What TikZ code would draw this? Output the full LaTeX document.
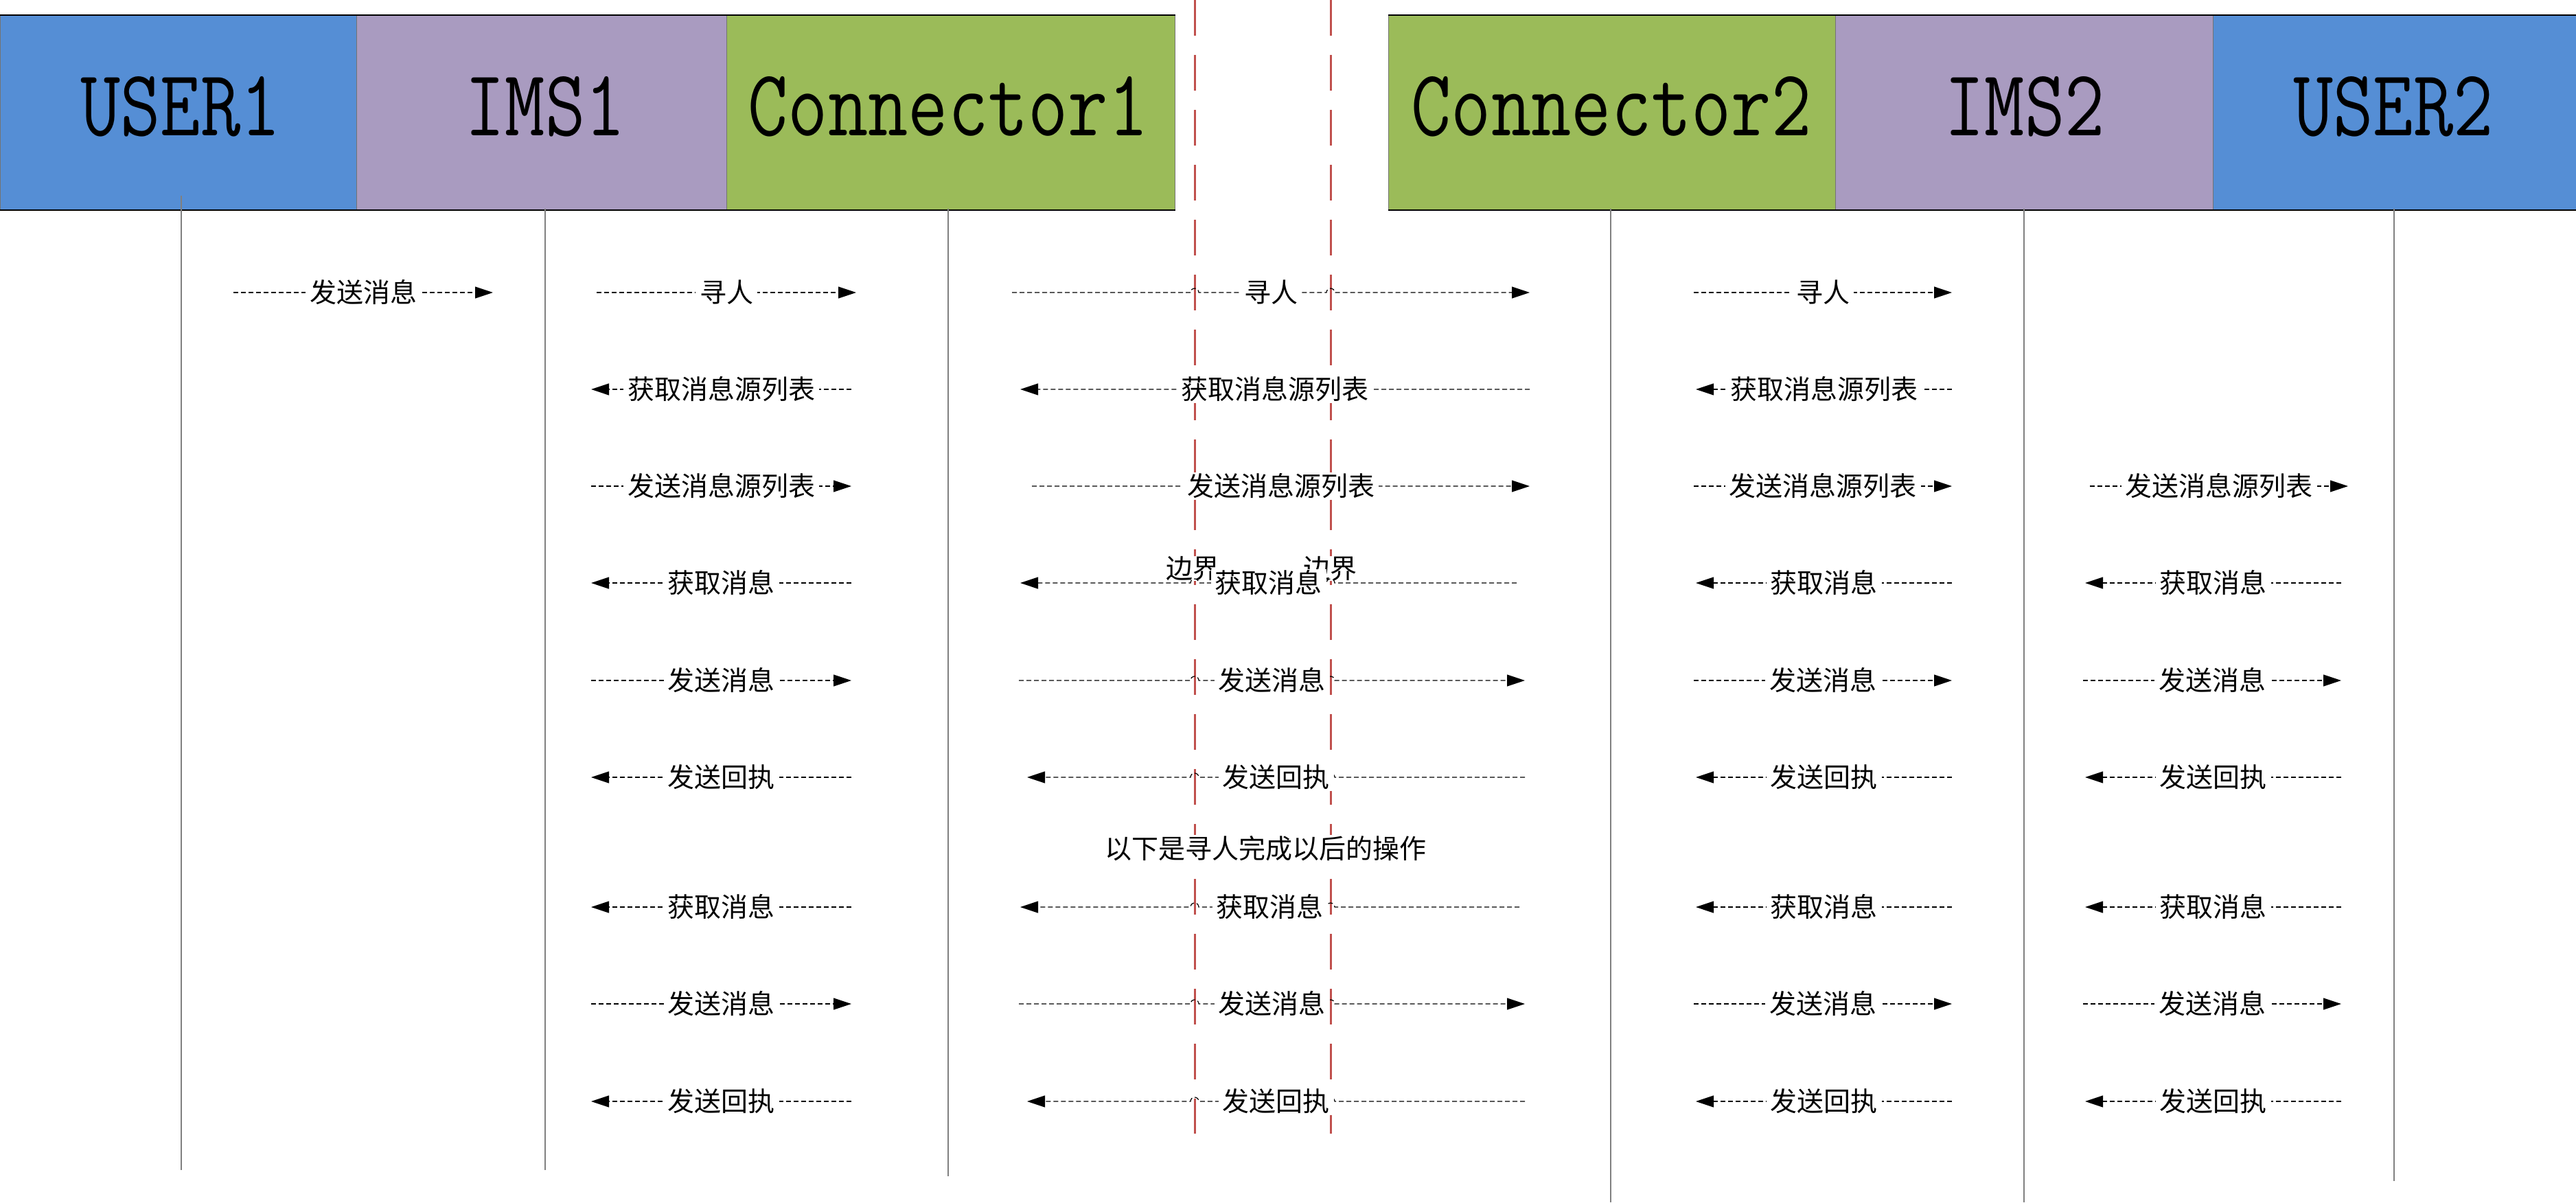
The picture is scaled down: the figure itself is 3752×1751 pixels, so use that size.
\documentclass[tikz,border=0pt]{standalone}
\usepackage{fontspec}
\newfontfamily\cjk{Noto Sans CJK SC}
\usetikzlibrary{arrows.meta,calc}
\definecolor{userblue}{HTML}{558ED5}
\definecolor{imspurple}{HTML}{A99BC0}
\definecolor{conngreen}{HTML}{9BBB59}
\definecolor{bred}{HTML}{C0504D}
\tikzset{
  hdrbox/.style={draw=black!55, line width=0.5pt, inner sep=0pt, anchor=north west, minimum height=141.5pt},
  hdrtext/.style={inner sep=0pt, font=\fontsize{69pt}{70pt}\ttfamily},
  lifeline/.style={draw=black!50, line width=0.7pt},
  boundary/.style={draw=bred, line width=1.5pt, dash pattern=on 26pt off 14pt},
  msgarrow/.style={draw=black, line width=0.6pt, dash pattern=on 3.5pt off 2pt, -{Triangle[length=13pt,width=8.5pt]}},
  msglabel/.style={fill=white, inner xsep=3pt, inner ysep=1pt, font=\cjk\fontsize{19.5pt}{20pt}\selectfont},
}
\newcommand\msgline[5]{%
  \coordinate (#1s) at (#3,#2); \coordinate (#1t) at (#4,#2);
  \draw[msgarrow] (#1s) -- (#1t);
  \node[msglabel] (#1) at ($(#1s)!0.5!(#1t)$) {#5};}
\newcommand\hopR[5]{%
  \coordinate (#1s) at (#3,#2); \coordinate (#1t) at (#4,#2);
  \draw[msgarrow] (#1s) -- (1734,#2) arc[start angle=180,end angle=0,radius=3pt] -- (1932,#2) arc[start angle=180,end angle=0,radius=3pt] -- (#1t);
  \node[msglabel] (#1) at ($(#1s)!0.5!(#1t)$) {#5};}
\newcommand\hopL[5]{%
  \coordinate (#1s) at (#3,#2); \coordinate (#1t) at (#4,#2);
  \draw[msgarrow] (#1s) -- (1944,#2) arc[start angle=0,end angle=180,radius=3pt] -- (1746,#2) arc[start angle=0,end angle=180,radius=3pt] -- (#1t);
  \node[msglabel] (#1) at ($(#1s)!0.5!(#1t)$) {#5};}
\begin{document}
\begin{tikzpicture}[x=0.5pt,y=-0.5pt]
\useasboundingbox (0,0) rectangle (3752,1751);
% header boxes
\node[hdrbox, fill=userblue,   minimum width=259.5pt] (user1box) at (0,21.5) {};
\node[hdrbox, fill=imspurple,  minimum width=269.5pt] (ims1box)  at (519,21.5) {};
\node[hdrbox, fill=conngreen,  minimum width=326.5pt] (conn1box) at (1058,21.5) {};
\node[hdrbox, fill=conngreen,  minimum width=325.5pt] (conn2box) at (2022,21.5) {};
\node[hdrbox, fill=imspurple,  minimum width=275pt]   (ims2box)  at (2673,21.5) {};
\node[hdrbox, fill=userblue,   minimum width=264.5pt] (user2box) at (3223,21.5) {};
\draw[line width=1pt] (user1box.north west) -- (conn1box.north east);
\draw[line width=1pt] (user1box.south west) -- (conn1box.south east);
\draw[line width=1pt] (conn2box.north west) -- (user2box.north east);
\draw[line width=1pt] (conn2box.south west) -- (user2box.south east);
\node[hdrtext] (user1t) at (263,155) {\scalebox{0.82}[1]{USER1}};
\node[hdrtext] (ims1t)  at (794,155) {\scalebox{0.82}[1]{IMS1}};
\node[hdrtext] (conn1t) at (1381,155) {\scalebox{0.82}[1]{Connector1}};
\node[hdrtext] (conn2t) at (2347,155) {\scalebox{0.82}[1]{Connector2}};
\node[hdrtext] (ims2t)  at (2949,155) {\scalebox{0.82}[1]{IMS2}};
\node[hdrtext] (user2t) at (3486,155) {\scalebox{0.82}[1]{USER2}};
% lifelines
\coordinate (l1a) at (264,285);  \coordinate (l1b) at (264,1704);
\coordinate (l2a) at (794,304);  \coordinate (l2b) at (794,1704);
\coordinate (l3a) at (1381,304); \coordinate (l3b) at (1381,1713);
\coordinate (l4a) at (2346,304); \coordinate (l4b) at (2346,1751);
\coordinate (l5a) at (2948,304); \coordinate (l5b) at (2948,1751);
\coordinate (l6a) at (3487,304); \coordinate (l6b) at (3487,1720);
\foreach \i in {1,...,6} {\draw[lifeline] (l\i a) -- (l\i b);}
% boundaries
\coordinate (b1a) at (1740,0); \coordinate (b1b) at (1740,1651);
\coordinate (b2a) at (1938,0); \coordinate (b2b) at (1938,1651);
\draw[boundary] (b1a) -- (b1b);
\draw[boundary] (b2a) -- (b2b);
% row 1
\msgline{r1a}{426}{340}{718}{发送消息}
\msgline{r1b}{426}{869}{1247}{寻人}
\hopR{r1c}{426}{1474}{2228}{寻人}
\msgline{r1d}{426}{2467}{2843}{寻人}
% row 2
\msgline{r2b}{567}{1240}{861}{获取消息源列表}
\hopL{r2c}{567}{2228}{1486}{获取消息源列表}
\msgline{r2d}{567}{2843}{2470}{获取消息源列表}
% row 3
\msgline{r3b}{708}{861}{1240}{发送消息源列表}
\hopR{r3c}{708}{1503}{2228}{发送消息源列表}
\msgline{r3d}{708}{2467}{2843}{发送消息源列表}
\msgline{r3e}{708}{3044}{3420}{发送消息源列表}
% row 4
\msgline{r4b}{849}{1240}{861}{获取消息}
\node[msglabel, inner sep=0pt] (bd1) at (1737,828) {边界};
\node[msglabel, inner sep=0pt] (bd2) at (1937,828) {边界};
\hopL{r4c}{849}{2209}{1486}{获取消息}
\msgline{r4d}{849}{2843}{2470}{获取消息}
\msgline{r4e}{849}{3410}{3037}{获取消息}
% row 5
\msgline{r5b}{991}{861}{1240}{发送消息}
\hopR{r5c}{991}{1484}{2221}{发送消息}
\msgline{r5d}{991}{2467}{2843}{发送消息}
\msgline{r5e}{991}{3034}{3410}{发送消息}
% row 6
\msgline{r6b}{1132}{1240}{861}{发送回执}
\hopL{r6c}{1132}{2221}{1496}{发送回执}
\msgline{r6d}{1132}{2843}{2470}{发送回执}
\msgline{r6e}{1132}{3410}{3037}{发送回执}
% note
\node[msglabel] (note) at (1843,1236) {以下是寻人完成以后的操作};
% row 7
\msgline{r7b}{1321}{1240}{861}{获取消息}
\hopL{r7c}{1321}{2213}{1486}{获取消息}
\msgline{r7d}{1321}{2843}{2470}{获取消息}
\msgline{r7e}{1321}{3410}{3037}{获取消息}
% row 8
\msgline{r8b}{1462}{861}{1240}{发送消息}
\hopR{r8c}{1462}{1484}{2221}{发送消息}
\msgline{r8d}{1462}{2467}{2843}{发送消息}
\msgline{r8e}{1462}{3034}{3410}{发送消息}
% row 9
\msgline{r9b}{1604}{1240}{861}{发送回执}
\hopL{r9c}{1604}{2221}{1496}{发送回执}
\msgline{r9d}{1604}{2843}{2470}{发送回执}
\msgline{r9e}{1604}{3410}{3037}{发送回执}
\end{tikzpicture}
\end{document}
